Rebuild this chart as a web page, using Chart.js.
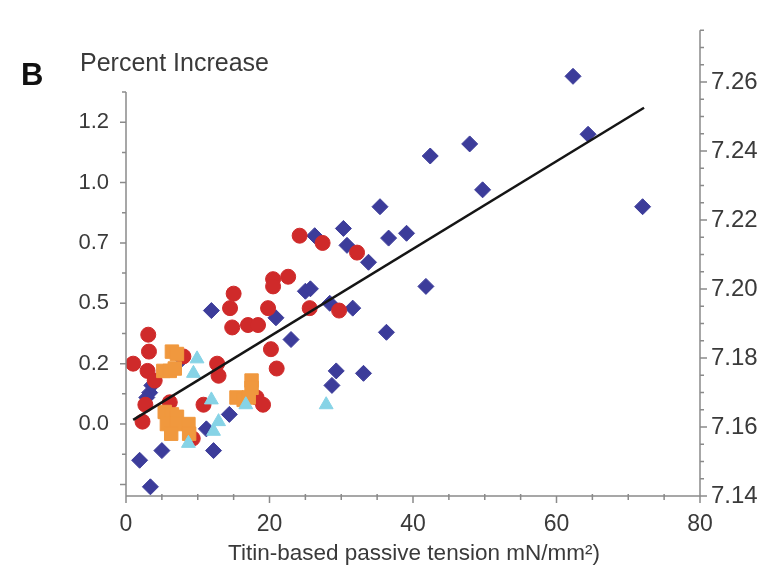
<!DOCTYPE html>
<html>
<head>
<meta charset="utf-8">
<title>Percent Increase vs passive tension</title>
<script src="https://cdn.jsdelivr.net/npm/chart.js@4.4.1/dist/chart.umd.min.js"></script>
<style>
  html, body { margin: 0; padding: 0; background: #ffffff; }
  #wrap { position: relative; width: 766px; height: 570px; }
</style>
</head>
<body>
<div id="wrap"><canvas id="chart" width="766" height="570"></canvas></div>
<script>
// Passive tension (mN/mm²) vs percent increase, four groups of fibres
const blueX = [62.3, 64.4, 72.0, 47.9, 42.4, 49.7, 35.4, 39.1, 36.6, 30.3, 30.8, 26.3, 33.8, 41.8,
               31.6, 36.3, 33.1, 29.3, 28.7, 25.0, 25.7, 20.9, 23.0, 28.4, 11.9, 14.4, 11.2, 12.2,
               5.0, 1.9, 3.4, 3.3, 3.6, 2.9, 7.8];
const blueY = [1.44, 1.20, 0.90, 1.16, 1.11, 0.97, 0.90, 0.79, 0.77, 0.81, 0.74, 0.78, 0.67, 0.57,
               0.48, 0.38, 0.21, 0.22, 0.16, 0.55, 0.56, 0.44, 0.35, 0.50, 0.47, 0.04, -0.02, -0.11,
               -0.11, -0.15, -0.26, 0.13, 0.16, 0.11, 0.27];

const redX = [1.0, 3.1, 3.2, 3.0, 4.0, 2.7, 2.3, 8.0, 12.7, 12.9, 10.8, 15.0, 14.5, 14.8, 17.0, 18.4,
              19.8, 20.2, 21.0, 18.2, 19.1, 20.5, 20.5, 22.6, 25.6, 29.7, 9.3, 6.1, 24.2, 27.4, 32.2];
const redY = [0.25, 0.37, 0.30, 0.22, 0.18, 0.08, 0.01, 0.28, 0.25, 0.20, 0.08, 0.54, 0.48, 0.40, 0.41, 0.41,
              0.48, 0.31, 0.23, 0.11, 0.08, 0.60, 0.57, 0.61, 0.48, 0.47, -0.06, 0.09, 0.78, 0.75, 0.71];

const orangeX = [6.4, 7.1, 5.2, 6.1, 6.8, 5.4, 6.4, 7.1, 5.7, 7.1, 8.7, 8.8, 6.3, 17.5, 17.5, 15.4, 16.4, 17.1];
const orangeY = [0.30, 0.29, 0.22, 0.22, 0.23, 0.05, 0.04, 0.03, 0.00, 0.00, 0.00, -0.04, -0.04, 0.18, 0.15, 0.11, 0.10, 0.11];

const cyanX = [9.9, 9.4, 11.9, 12.9, 12.2, 8.7, 16.7, 27.9];
const cyanY = [0.27, 0.21, 0.10, 0.01, -0.03, -0.08, 0.08, 0.08];

// linear fit drawn across the data
const fitX = [1.0, 72.2];
const fitY = [0.017, 1.31];

// axes
const xTicks = [0, 20, 40, 60, 80];
const xTickText = ['0', '20', '40', '60', '80'];
const leftTicks = [0, 0.25, 0.5, 0.75, 1.0, 1.25];
const leftTickText = ['0.0', '0.2', '0.5', '0.7', '1.0', '1.2'];
const rightTicks = [7.14, 7.16, 7.18, 7.20, 7.22, 7.24, 7.26];
const rightTickText = ['7.14', '7.16', '7.18', '7.20', '7.22', '7.24', '7.26'];

const FONT = "'Liberation Sans', Arial, Helvetica, sans-serif";
const TEXT = '#3a3a3a';
const AXIS = '#8a8a8a';

const pts = (xs, ys) => xs.map((x, i) => ({ x: x, y: ys[i] }));

// axis lines, major/minor tick marks and the free-standing labels
const axisDecor = {
    id: 'axisDecor',
    afterDraw(chart) {
        const { ctx, scales } = chart;
        const x = scales.x, y = scales.y, y2 = scales.y2;
        const area = chart.chartArea;
        ctx.save();
        ctx.strokeStyle = AXIS;
        ctx.lineWidth = 1.5;

        // x axis
        ctx.beginPath();
        ctx.moveTo(area.left, area.bottom);
        ctx.lineTo(area.right, area.bottom);
        for (let v = 0; v <= 80; v += 5) {
            const px = x.getPixelForValue(v);
            const len = v % 20 === 0 ? 7 : 4;
            ctx.moveTo(px, area.bottom - (v % 20 === 0 ? 0 : 2));
            ctx.lineTo(px, area.bottom + len);
        }
        ctx.stroke();

        // left axis (stops at 1.375)
        const lTop = y.getPixelForValue(1.375);
        ctx.beginPath();
        ctx.moveTo(area.left, area.bottom);
        ctx.lineTo(area.left, lTop);
        for (let k = -2; k <= 11; k++) {
            const v = k * 0.125;
            const py = y.getPixelForValue(v);
            const len = k % 2 === 0 ? 6 : 4;
            ctx.moveTo(area.left, py);
            ctx.lineTo(area.left - len, py);
        }
        ctx.stroke();

        // right axis
        ctx.beginPath();
        ctx.moveTo(area.right, area.bottom);
        ctx.lineTo(area.right, area.top);
        for (let k = 0; k <= 27; k++) {
            const v = 7.14 + k * 0.005;
            const py = y2.getPixelForValue(v);
            const len = k % 4 === 0 ? 7 : 4;
            ctx.moveTo(area.right, py);
            ctx.lineTo(area.right + len, py);
        }
        ctx.stroke();

        // panel letter and axis titles
        ctx.fillStyle = '#111';
        ctx.font = 'bold 31px ' + FONT;
        ctx.textBaseline = 'alphabetic';
        ctx.textAlign = 'left';
        ctx.fillText('B', 21, 85);

        ctx.fillStyle = TEXT;
        ctx.font = '25px ' + FONT;
        ctx.fillText('Percent Increase', 80, 71);

        ctx.textAlign = 'center';
        ctx.font = '22.5px ' + FONT;
        ctx.fillText('Titin-based passive tension mN/mm\u00b2)', (area.left + area.right) / 2 + 1, 560);
        ctx.restore();
    }
};

const ctx = document.getElementById('chart').getContext('2d');
new Chart(ctx, {
    type: 'scatter',
    data: {
        datasets: [
            {
                type: 'line',
                data: pts(fitX, fitY),
                borderColor: '#151515',
                borderWidth: 2.5,
                pointRadius: 0,
                fill: false,
                yAxisID: 'y'
            },
            {
                data: pts(cyanX, cyanY),
                pointStyle: 'triangle',
                pointRadius: 8,
                backgroundColor: '#86d3e6',
                borderColor: '#86d3e6',
                yAxisID: 'y'
            },
            {
                data: pts(orangeX, orangeY),
                pointStyle: 'rect',
                pointRadius: 9.5,
                backgroundColor: '#f0983e',
                borderColor: '#f0983e',
                yAxisID: 'y'
            },
            {
                data: pts(redX, redY),
                pointStyle: 'circle',
                pointRadius: 7.5,
                backgroundColor: '#cf2a2a',
                borderColor: '#cf2a2a',
                yAxisID: 'y'
            },
            {
                data: pts(blueX, blueY),
                pointStyle: 'rectRot',
                pointRadius: 8,
                backgroundColor: '#3c3c9a',
                borderColor: '#3c3c9a',
                yAxisID: 'y'
            }
        ]
    },
    options: {
        responsive: false,
        animation: false,
        devicePixelRatio: 1,
        layout: { padding: { top: 30, left: 0, right: 0, bottom: 0 } },
        plugins: {
            legend: { display: false },
            tooltip: { enabled: false }
        },
        scales: {
            x: {
                type: 'linear',
                min: 0,
                max: 80,
                afterFit: s => { s.height = 74; },
                afterBuildTicks: s => { s.ticks = xTicks.map(v => ({ value: v })); },
                grid: { display: false, drawTicks: false },
                border: { display: false },
                ticks: {
                    padding: 15,
                    color: TEXT,
                    font: { family: FONT, size: 23 },
                    callback: (v, i) => xTickText[i]
                }
            },
            y: {
                type: 'linear',
                position: 'left',
                min: -0.298,
                max: 1.631,
                afterFit: s => { s.width = 126; },
                afterBuildTicks: s => { s.ticks = leftTicks.map(v => ({ value: v })); },
                grid: { display: false, drawTicks: false },
                border: { display: false },
                ticks: {
                    padding: 17,
                    color: TEXT,
                    font: { family: FONT, size: 22 },
                    callback: (v, i) => leftTickText[i]
                }
            },
            y2: {
                type: 'linear',
                position: 'right',
                min: 7.14,
                max: 7.275,
                afterFit: s => { s.width = 66; },
                afterBuildTicks: s => { s.ticks = rightTicks.map(v => ({ value: v })); },
                grid: { display: false, drawTicks: false },
                border: { display: false },
                ticks: {
                    padding: 11,
                    color: TEXT,
                    font: { family: FONT, size: 24 },
                    callback: (v, i) => rightTickText[i]
                }
            }
        }
    },
    plugins: [axisDecor]
});
</script>
</body>
</html>
